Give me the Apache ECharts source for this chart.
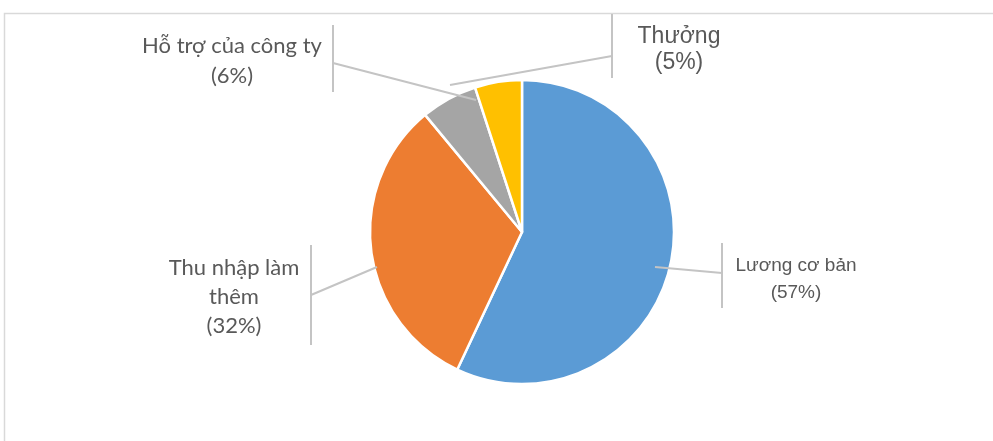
<!DOCTYPE html>
<html><head><meta charset="utf-8">
<script src="https://cdn.jsdelivr.net/npm/echarts@6/dist/echarts.min.js"></script>
<style>html,body{margin:0;padding:0;background:#fff}#c{width:993px;height:441px}</style>
</head><body><div id="c"></div>
<script>
const categories = ['Lương cơ bản', 'Thu nhập làm\nthêm', 'Hỗ trợ của công ty', 'Thưởng'];
const values = [57, 32, 6, 5];
const colors = ['#5B9BD5', '#ED7D31', '#A5A5A5', '#FFC000'];

// label styling/placement (pixel layout, not data)
const labelPos = [
  {x: 796, y: 279, font: '"Liberation Sans"', size: 19, lh: 27, line: [[655,267],[722,273]], bar: [722,243,308]},
  {x: 234, y: 297, font: 'Lato', size: 22, lh: 29, line: [[377,267],[311,295]], bar: [311,245,345]},
  {x: 232, y: 61, font: 'Lato', size: 22, lh: 30, line: [[476,100],[333,63]], bar: [333,25,92]},
  {x: 679, y: 50, font: '"Liberation Sans"', size: 23, lh: 26, line: [[450,85],[612,56]], bar: [612,14,78]}
];

const chart = echarts.init(document.getElementById('c'), null, {renderer: 'canvas'});
const data = categories.map((n, i) => ({
  name: n, value: values[i],
  itemStyle: {color: colors[i]},
  label: {fontFamily: labelPos[i].font, fontSize: labelPos[i].size, lineHeight: labelPos[i].lh}
}));

const graphics = [{
  type: 'rect', shape: {x: 4.5, y: 13.5, width: 1200, height: 600},
  style: {fill: 'none', stroke: '#d9d9d9', lineWidth: 1.5}, silent: true
}];
labelPos.forEach(p => {
  graphics.push({
    type: 'line', z: 100, shape: {x1: p.bar[0], y1: p.bar[1], x2: p.bar[0], y2: p.bar[2]},
    style: {stroke: '#c4c4c4', lineWidth: 2}, silent: true
  });
  graphics.push({
    type: 'line', z: 100, shape: {x1: p.line[0][0], y1: p.line[0][1], x2: p.line[1][0], y2: p.line[1][1]},
    style: {stroke: '#c4c4c4', lineWidth: 2}, silent: true
  });
});

chart.setOption({
  animation: false,
  graphic: graphics,
  series: [{
    type: 'pie',
    center: [522, 232],
    radius: 152,
    startAngle: 90,
    clockwise: true,
    data: data,
    itemStyle: {borderColor: '#fff', borderWidth: 2.5},
    label: {
      show: true, position: 'outside', color: '#595959',
      formatter: p => p.name + '\n(' + p.value + '%)',
      align: 'center'
    },
    labelLine: {show: false},
    labelLayout: params => {
      const p = labelPos[params.dataIndex];
      return {x: p.x, y: p.y, align: 'center', verticalAlign: 'middle'};
    },
    emphasis: {disabled: true}
  }]
});
</script></body></html>
